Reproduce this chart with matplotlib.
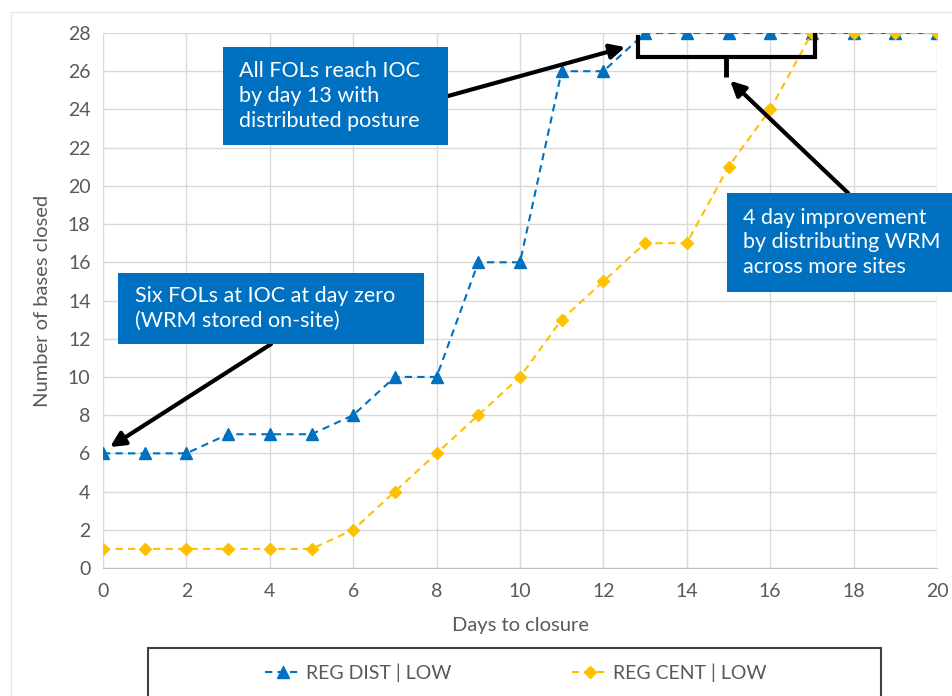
import matplotlib
matplotlib.use("Agg")
import matplotlib.pyplot as plt
from matplotlib.patches import Rectangle

plt.rcParams['font.family'] = ['Lato', 'DejaVu Sans']

days = list(range(0, 21))
reg_dist = [6, 6, 6, 7, 7, 7, 8, 10, 10, 16, 16, 26, 26, 28, 28, 28, 28, 28, 28, 28, 28]
reg_cent = [1, 1, 1, 1, 1, 1, 2, 4, 6, 8, 10, 13, 15, 17, 17, 21, 24, 28, 28, 28, 28]
series_names = ["REG DIST | LOW", "REG CENT | LOW"]
x_ticks = list(range(0, 21, 2))
y_ticks = list(range(0, 29, 2))

W, H = 952, 696
def fx(x):
    return x / W
def fy(y):
    return 1 - y / H

BLUE = "#0070C0"
GOLD = "#FFC000"
GREY = "#595959"
BOXBLUE = "#0070C0"

fig = plt.figure(figsize=(9.52, 6.96), dpi=100)
ax = fig.add_axes([fx(103), fy(568), fx(937) - fx(103), fy(33) - fy(568)])

# faint outer chart border
fig.patches.append(Rectangle((fx(11), fy(760)), 1.2, fy(12) - fy(760), transform=fig.transFigure,
                             facecolor='none', edgecolor='#E6E6E6', lw=1.0, zorder=0))

l1, = ax.plot(days, reg_dist, linestyle=(0, (3.5, 2.5)), color=BLUE, lw=1.5,
              marker='^', markersize=8, markerfacecolor=BLUE, markeredgecolor=BLUE, zorder=3)
l2, = ax.plot(days, reg_cent, linestyle=(0, (3.5, 2.5)), color=GOLD, lw=1.5,
              marker='D', markersize=6.5, markerfacecolor=GOLD, markeredgecolor=GOLD, zorder=3)

ax.set_xlim(0, 20)
ax.set_ylim(0, 28)
ax.set_xticks(x_ticks)
ax.set_yticks(y_ticks)
ax.grid(True, color='#D9D9D9', lw=1.0, zorder=0)
ax.set_axisbelow(True)
for s in ['top', 'right', 'left']:
    ax.spines[s].set_visible(False)
ax.spines['bottom'].set_color('#BFBFBF')
ax.tick_params(axis='both', length=0, labelsize=14, labelcolor=GREY)
ax.tick_params(axis='x', pad=11)
ax.tick_params(axis='y', pad=9)
ax.set_xlabel("Days to closure", fontsize=14.5, color=GREY, labelpad=12)
ax.set_ylabel("Number of bases closed", fontsize=14.5, color=GREY, labelpad=12)

# annotation boxes
def box(x0, y0, x1, y1, tx, lines):
    fig.patches.append(Rectangle((fx(x0), fy(y1)), fx(x1) - fx(x0), fy(y0) - fy(y1),
                                 transform=fig.transFigure, facecolor=BOXBLUE,
                                 edgecolor='none', zorder=5))
    fig.text(fx(tx), fy((y0 + y1) / 2), "\n".join(lines), color='white', fontsize=15.5,
             ha='left', va='center', linespacing=1.3, zorder=6)

box(223, 47, 448, 145, 239, ["All FOLs reach IOC", "by day 13 with", "distributed posture"])
box(118, 273, 424, 344, 135, ["Six FOLs at IOC at day zero", "(WRM stored on-site)"])
box(727, 193, 960, 292, 743, ["4 day improvement", "by distributing WRM", "across more sites"])

arrow = dict(arrowstyle='-|>', lw=3, color='black', mutation_scale=22, shrinkA=0, shrinkB=0)
ax.annotate("", xy=(12.52, 27.26), xytext=(8.27, 24.7), arrowprops=arrow, zorder=4,
            annotation_clip=False)
ax.annotate("", xy=(0.17, 6.33), xytext=(4.03, 11.72), arrowprops=arrow, zorder=4,
            annotation_clip=False)
ax.annotate("", xy=(15.04, 25.5), xytext=(17.87, 19.62), arrowprops=arrow, zorder=4,
            annotation_clip=False)

# bracket
ax.plot([12.83, 12.83, 17.07, 17.07], [27.8, 26.75, 26.75, 27.9], color='black', lw=3,
        solid_joinstyle='miter', zorder=4, clip_on=False)
ax.plot([14.95, 14.95], [26.75, 25.7], color='black', lw=3.5, solid_capstyle='butt',
        zorder=4, clip_on=False)

# legend
fig.patches.append(Rectangle((fx(148), fy(740)), fx(881) - fx(148), fy(648) - fy(740),
                             transform=fig.transFigure, facecolor='white',
                             edgecolor='#404040', lw=1.5, zorder=2))
leg = fig.legend([l1, l2], series_names, loc='center', bbox_to_anchor=(fx(516), fy(673)),
                 ncol=2, frameon=False, fontsize=14, handlelength=1.8, handletextpad=0.3,
                 columnspacing=6.2, labelcolor=GREY)
leg.set_zorder(3)

fig.savefig("out.png", dpi=100)
